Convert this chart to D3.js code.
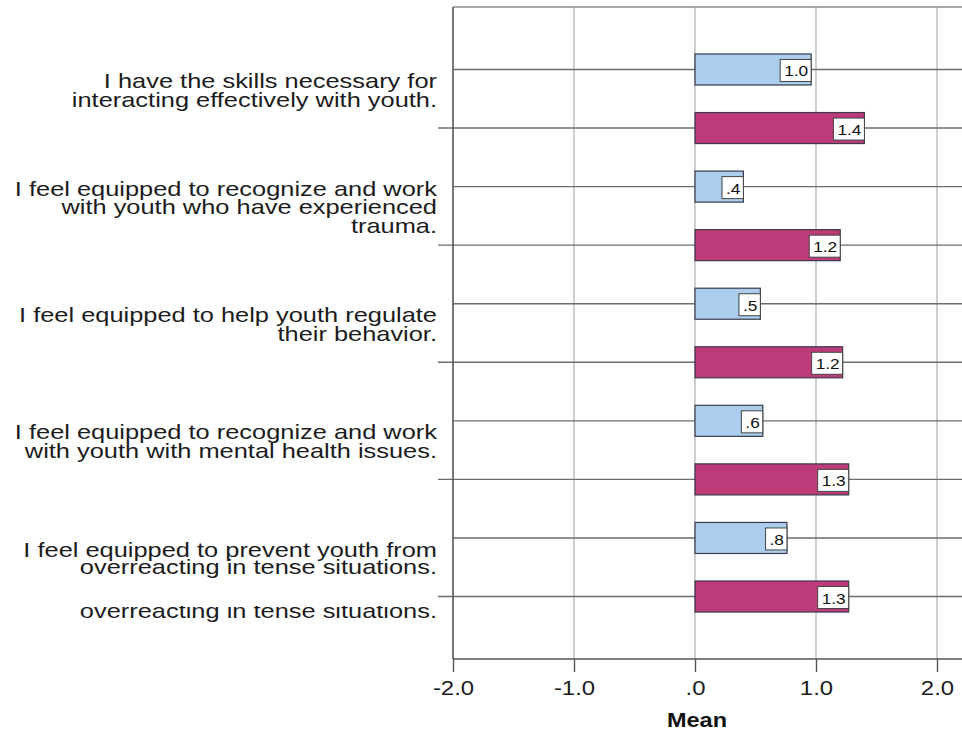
<!DOCTYPE html>
<html>
<head>
<meta charset="utf-8">
<script src="https://cdn.jsdelivr.net/npm/d3@7"></script>
<style>
  body { margin: 0; background: #fff; }
  svg { display: block; font-family: "Liberation Sans", Arial, sans-serif; }
  .cat_label { font-size: 21px; fill: #1c1c1c; }
  .tick_label { font-size: 21px; fill: #1c1c1c; }
  .axis_title { font-size: 21px; font-weight: bold; fill: #111; }
  .val_label { font-size: 15px; fill: #111; }
</style>
</head>
<body>
<div id="chart"></div>
<script>
// statements, one entry per item, already wrapped as in the picture
const statements = [
  ["I have the skills necessary for", "interacting effectively with youth."],
  ["I feel equipped to recognize and work", "with youth who have experienced", "trauma."],
  ["I feel equipped to help youth regulate", "their behavior."],
  ["I feel equipped to recognize and work", "with youth with mental health issues."],
  ["I feel equipped to prevent youth from", "overreacting in tense situations."]
];
// first series (light blue) and second series (magenta), mean values
const series1Values = [0.96, 0.40, 0.54, 0.56, 0.76];
const series2Values = [1.40, 1.20, 1.22, 1.27, 1.27];
const xTicks = [-2, -1, 0, 1, 2];
const xDomain = [-2, 2];
const axisTitle = "Mean";

const W = 962, H = 731;
const plotLeft = 453, plotTop = 7, plotBottom = 659;
const stretch = 1.21; // the picture's text is drawn wide

// spss style number format, no leading zero, plain hyphen for minus
function spssFmt(v) {
  let s = d3.format(".1f")(v).replace("\u2212", "-");
  return s.replace(/^(-?)0\./, "$1.");
}

let rowKeys = [];
statements.forEach((s, i) => { rowKeys.push(i + "a"); rowKeys.push(i + "b"); });

let xScale = d3.scaleLinear().domain(xDomain).range([plotLeft, 937]);
let yScale = d3.scalePoint().domain(rowKeys).range([plotTop, plotBottom]).padding(1.067);
let step = yScale.step();
let barH = step * 0.53;

let svg = d3.select("#chart").append("svg")
    .attr("width", W).attr("height", H);

// vertical grid lines
svg.append("g").selectAll("line")
    .data(xTicks.filter(t => t > xDomain[0]))
    .enter().append("line")
    .attr("x1", d => xScale(d)).attr("x2", d => xScale(d))
    .attr("y1", plotTop).attr("y2", plotBottom)
    .attr("stroke", "#c4c4c4").attr("stroke-width", 1.6);

// horizontal row lines (pink rows get a tick to the left of the axis)
svg.append("g").selectAll("line")
    .data(rowKeys)
    .enter().append("line")
    .attr("x1", d => d.endsWith("b") ? plotLeft - 15 : plotLeft)
    .attr("x2", W)
    .attr("y1", d => yScale(d)).attr("y2", d => yScale(d))
    .attr("stroke", "#6c6c6c").attr("stroke-width", 1.4);

// frame: top border + left axis
svg.append("line").attr("x1", plotLeft).attr("x2", W).attr("y1", plotTop).attr("y2", plotTop)
    .attr("stroke", "#8a8a8a").attr("stroke-width", 1.4);
svg.append("line").attr("x1", plotLeft).attr("x2", plotLeft).attr("y1", plotTop).attr("y2", plotBottom)
    .attr("stroke", "#555").attr("stroke-width", 1.6);

// bottom axis
let xAxis = svg.append("g")
    .attr("transform", "translate(0," + plotBottom + ")")
    .call(d3.axisBottom(xScale).tickValues(xTicks).tickSize(13).tickSizeOuter(0).tickFormat(spssFmt));
xAxis.attr("font-size", null).attr("font-family", null);
xAxis.select(".domain").attr("stroke", "#555").attr("stroke-width", 1.6)
    .attr("d", "M" + plotLeft + ",0H" + W);
xAxis.selectAll(".tick line").attr("stroke", "#555").attr("stroke-width", 1.4);
xAxis.selectAll(".tick text").attr("class", "tick_label")
    .attr("fill", null)
    .attr("y", 21).attr("dy", "0.71em")
    .attr("transform", "scale(1.14,1)");

svg.append("text").attr("class", "axis_title")
    .attr("transform", "translate(" + (xScale(0) + 2) + ",727) scale(1.12,1)")
    .attr("text-anchor", "middle").text(axisTitle);

// bars
let bars = [];
statements.forEach((s, i) => {
  bars.push({ key: i + "a", v: series1Values[i], fill: "#abcdee" });
  bars.push({ key: i + "b", v: series2Values[i], fill: "#be3b79" });
});

svg.append("g").selectAll("rect")
    .data(bars)
    .enter().append("rect")
    .attr("x", d => xScale(Math.min(0, d.v)))
    .attr("y", d => yScale(d.key) - barH / 2)
    .attr("width", d => Math.abs(xScale(d.v) - xScale(0)))
    .attr("height", barH)
    .attr("fill", d => d.fill)
    .attr("stroke", "#3a3a4a").attr("stroke-width", 1.2);

// value labels in white boxes at the bar end
let vl = svg.append("g").selectAll("g")
    .data(bars)
    .enter().append("g");
vl.append("text").attr("class", "val_label")
    .attr("transform", d => "translate(" + (xScale(d.v) - 3) + "," + (yScale(d.key) + 7) + ") scale(1.15,1)")
    .attr("text-anchor", "end")
    .text(d => spssFmt(d.v));
vl.each(function(d) {
  let g = d3.select(this);
  let w = g.select("text").node().getComputedTextLength() * 1.15 + 7;
  g.insert("rect", "text")
      .attr("x", xScale(d.v) - w)
      .attr("y", yScale(d.key) - 10)
      .attr("width", w).attr("height", 22)
      .attr("fill", "#fff").attr("stroke", "#444").attr("stroke-width", 1);
});

// category labels, centred on each pair of bars
const leading = [19.5, 18.5, 19.5, 19.5, 17];
let catG = svg.append("g");
statements.forEach((lines, i) => {
  let c = (yScale(i + "a") + yScale(i + "b")) / 2;
  let y0 = c - (lines.length - 1) * leading[i] / 2 - 1.5;
  let t = catG.append("text").attr("class", "cat_label").attr("text-anchor", "end")
      .attr("transform", "translate(437,0) scale(" + stretch + ",1)");
  lines.forEach((ln, j) => {
    t.append("tspan").attr("x", 0).attr("y", y0 + j * leading[i]).text(ln);
  });
});

// stray, partly hidden repeat of the last label line seen in the picture
svg.append("clipPath").attr("id", "ghostclip")
    .append("rect").attr("x", 0).attr("y", 606).attr("width", 450).attr("height", 20);
let lastLines = statements[statements.length - 1];
svg.append("g").attr("clip-path", "url(#ghostclip)")
  .append("text").attr("class", "cat_label").attr("text-anchor", "end")
    .attr("transform", "translate(437,618) scale(" + stretch + ",1)")
    .text(lastLines[lastLines.length - 1]);
</script>
</body>
</html>
